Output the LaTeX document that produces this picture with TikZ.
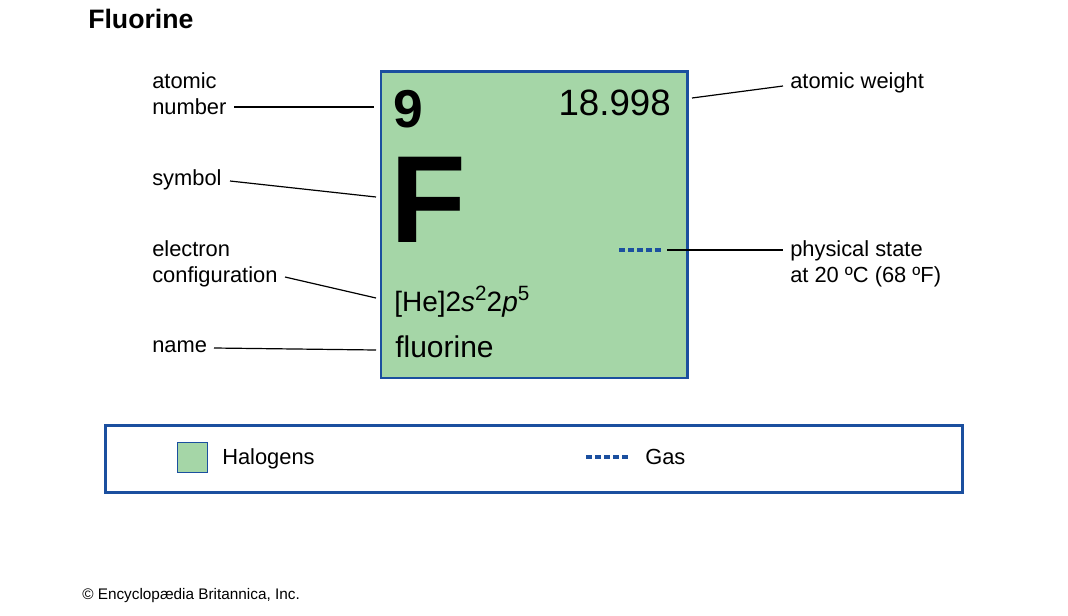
\documentclass[tikz,border=0pt]{standalone}
\usepackage{fontspec}
\setmainfont{Liberation Sans}
\definecolor{halogen}{HTML}{A5D6A7}
\definecolor{cellblue}{HTML}{1B4F9F}
\newcommand{\supx}[1]{\raisebox{0.36em}{\fontsize{15.5}{16}\selectfont #1}}
\begin{document}
\begin{tikzpicture}[x=0.75pt,y=-0.75pt,
  lbl/.style={inner sep=0pt,anchor=base west,font=\fontsize{16.4}{19.5}\selectfont,align=left},
  leader/.style={draw=black,line width=0.9pt},
  gasdash/.style={draw=cellblue,line width=2.4pt,dash pattern=on 4.5pt off 2.25pt}]
\useasboundingbox (0,0) rectangle (1068,615);
% title
\node[inner sep=0pt,anchor=base west,font=\fontsize{20}{24}\selectfont\bfseries] (title) at (88,28.5) {Fluorine};
% element cell
\node[draw=cellblue,fill=halogen,line width=2pt,minimum width=230pt,minimum height=230pt,inner sep=0pt,anchor=north west] (cell) at (379.5,70) {};
\node[inner sep=0pt,anchor=base west,font=\fontsize{40}{44}\selectfont\bfseries] (num) at (393,127) {9};
\node[inner sep=0pt,anchor=base east,font=\fontsize{27.5}{30}\selectfont] (wt) at (671,115) {18.998};
\node[inner sep=0pt,anchor=base west,font=\fontsize{93}{98}\selectfont\bfseries] (sym) at (390,242) {F};
\node[inner sep=0pt,anchor=base west,font=\fontsize{21}{24}\selectfont] (conf) at (394,311) {[He]2\textit{s}\supx{2}2\textit{p}\supx{5}};
\node[inner sep=0pt,anchor=base west,font=\fontsize{22.5}{24}\selectfont] (nm) at (395,357) {fluorine};
\coordinate (gasL) at (619,250);
\coordinate (gasR) at (663,250);
\draw[gasdash] (gasL) -- (gasR);
% labels left
\node[lbl] (lnum) at (152,114) {atomic\\number};
\node[lbl] (lsym) at (152,185.5) {symbol};
\node[lbl] (lconf) at (152,282) {electron\\configuration};
\node[lbl] (lname) at (152,352.5) {name};
% labels right
\node[lbl] (lwt) at (790,88) {atomic weight};
\node[lbl] (lstate) at (790,282) {physical state\\at 20 ºC (68 ºF)};
% leader ends
\coordinate (a1) at (234,107); \coordinate (a2) at (374,107);
\coordinate (s1) at (230,181); \coordinate (s2) at (376,197);
\coordinate (c1) at (285,277); \coordinate (c2) at (376,298);
\coordinate (n1) at (214,348); \coordinate (n2) at (376,350);
\coordinate (w1) at (692,98);  \coordinate (w2) at (783,86);
\coordinate (p1) at (667,250); \coordinate (p2) at (783,250);
\draw[leader] (a1) -- (a2);
\draw[leader] (s1) -- (s2);
\draw[leader] (c1) -- (c2);
\draw[leader] (n1) -- (n2);
\draw[leader] (w1) -- (w2);
\draw[leader] (p1) -- (p2);
% legend
\node[draw=cellblue,line width=2pt,minimum width=643pt,minimum height=50.5pt,inner sep=0pt,anchor=north west] (legend) at (104,424) {};
\node[draw=cellblue,fill=halogen,line width=0.9pt,minimum width=23pt,minimum height=22.5pt,inner sep=0pt,anchor=north west] (sq) at (176.5,442) {};
\node[lbl] (hal) at (222,464) {Halogens};
\coordinate (lg1) at (586,457); \coordinate (lg2) at (631,457);
\draw[gasdash] (lg1) -- (lg2);
\node[lbl] (gas) at (645,464) {Gas};
% copyright
\node[inner sep=0pt,anchor=base west,font=\fontsize{11.5}{14}\selectfont] (copy) at (82,599.5) {© Encyclopædia Britannica, Inc.};
\end{tikzpicture}
\end{document}
